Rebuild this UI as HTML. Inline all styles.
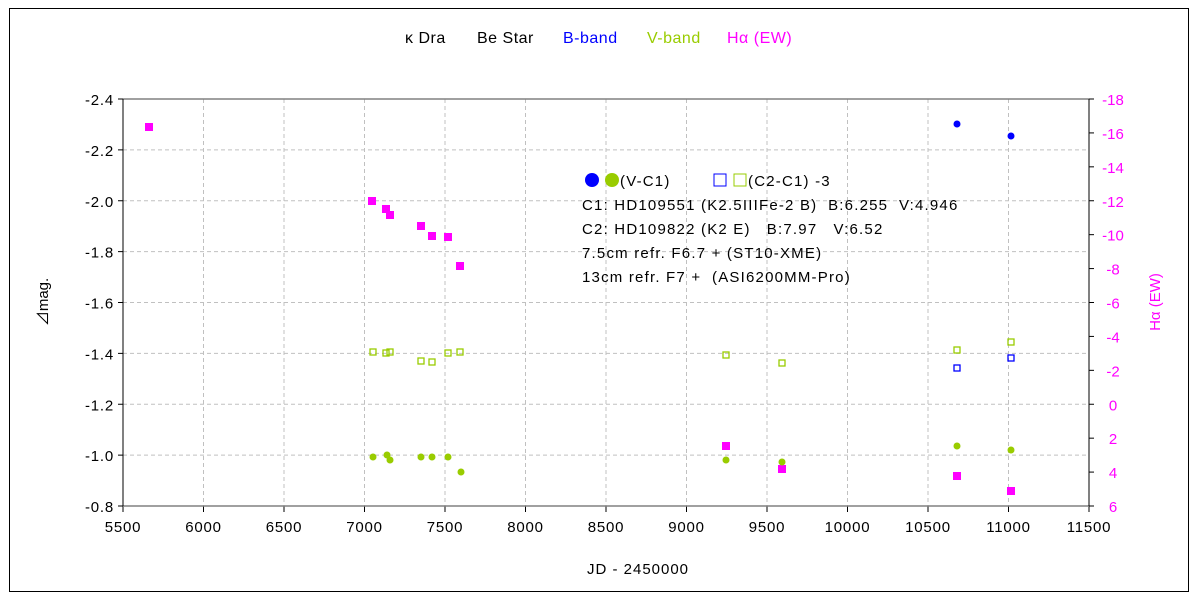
<!DOCTYPE html>
<html><head><meta charset="utf-8"><style>
html,body{margin:0;padding:0;background:#fff;}
svg text{font-family:"Liberation Sans","Noto Sans CJK JP",sans-serif;white-space:pre;}
.ann text{letter-spacing:1.2px;}
</style></head><body>
<svg id="s" width="1200" height="600" xmlns="http://www.w3.org/2000/svg">
<rect x="0" y="0" width="1200" height="600" fill="#fff"/>
<rect x="9.5" y="8.5" width="1179" height="583" fill="none" stroke="#000" stroke-width="1"/>
<g id="g"></g>
<g font-size="16" style="letter-spacing:0.5px">
<text x="405" y="43">κ Dra</text>
<text x="477" y="43">Be Star</text>
<text x="563" y="43" fill="#0000ff">B-band</text>
<text x="647" y="43" fill="#99cc00">V-band</text>
<text x="727" y="43" fill="#ff00ff">Hα (EW)</text>
</g>
<g font-size="15" class="ann">
<circle cx="592" cy="180" r="7" fill="#0000ff"/>
<circle cx="612" cy="180" r="7" fill="#99cc00"/>
<text x="620" y="186">(V-C1)</text>
<rect x="714" y="174" width="12" height="12" fill="none" stroke="#0000ff"/>
<rect x="734" y="174" width="12" height="12" fill="none" stroke="#99cc00"/>
<text x="748" y="186">(C2-C1) -3</text>
<text x="582" y="210">C1: HD109551 (K2.5IIIFe-2 B)  B:6.255  V:4.946</text>
<text x="582" y="234">C2: HD109822 (K2 E)   B:7.97   V:6.52</text>
<text x="582" y="258">7.5cm refr. F6.7 + (ST10-XME)</text>
<text x="582" y="282">13cm refr. F7 +  (ASI6200MM-Pro)</text>
</g>
<text x="638" y="574" font-size="15" text-anchor="middle" style="letter-spacing:1px">JD - 2450000</text>
<text transform="translate(48,302) rotate(-90)" font-size="15" text-anchor="middle">⊿mag.</text>
<text transform="translate(1160,302) rotate(-90)" font-size="15" text-anchor="middle" fill="#ff00ff">Hα (EW)</text>
</svg>
<script>
var g=document.getElementById('g'),h='';
var L=123,R=1089,T=99,B=506;
for(var i=0;i<=12;i++){var x=L+i*80.5;var v=5500+i*500;
 if(i>0&&i<12)h+='<line x1="'+x+'" y1="'+T+'" x2="'+x+'" y2="'+B+'" stroke="#c0c0c0" stroke-dasharray="4,3"/>';
 h+='<line x1="'+x+'" y1="'+B+'" x2="'+x+'" y2="'+(B+6)+'" stroke="#000"/>';
 h+='<text x="'+x+'" y="'+(B+26)+'" font-size="15" text-anchor="middle" style="letter-spacing:0.8px">'+v+'</text>';}
var lv=['-2.4','-2.2','-2.0','-1.8','-1.6','-1.4','-1.2','-1.0','-0.8'];
for(var i=0;i<9;i++){var y=T+i*50.875;
 if(i>0&&i<8)h+='<line x1="'+L+'" y1="'+y+'" x2="'+R+'" y2="'+y+'" stroke="#c0c0c0" stroke-dasharray="4,3"/>';
 h+='<line x1="'+(L-5)+'" y1="'+y+'" x2="'+L+'" y2="'+y+'" stroke="#000"/>';
 h+='<text x="'+(L-9)+'" y="'+(y+6)+'" font-size="15" text-anchor="end" style="letter-spacing:0.8px">'+lv[i]+'</text>';}
for(var i=0;i<13;i++){var y=T+i*(B-T)/12;var v=-18+i*2;
 h+='<line x1="'+R+'" y1="'+y+'" x2="'+(R+5)+'" y2="'+y+'" stroke="#000"/>';
 h+='<text x="'+(R+24)+'" y="'+(y+6)+'" font-size="15" text-anchor="middle" fill="#ff00ff">'+v+'</text>';}
h+='<line x1="'+L+'" y1="'+T+'" x2="'+R+'" y2="'+T+'" stroke="#808080" stroke-width="1.5"/>';
h+='<line x1="'+L+'" y1="'+B+'" x2="'+R+'" y2="'+B+'" stroke="#808080" stroke-width="1.5"/>';
h+='<line x1="'+L+'" y1="'+T+'" x2="'+L+'" y2="'+B+'" stroke="#000"/>';
h+='<line x1="'+R+'" y1="'+T+'" x2="'+R+'" y2="'+B+'" stroke="#000"/>';
var mg=[[149,127],[372,201],[386,209],[390,215],[421,226],[432,236],[448,237],[460,266],[726,446],[782,469],[957,476],[1011,491]];
mg.forEach(function(p){h+='<rect x="'+(p[0]-4)+'" y="'+(p[1]-4)+'" width="8" height="8" fill="#ff00ff"/>';});
var gs=[[373,352],[386,353],[390,352],[421,361],[432,362],[448,353],[460,352],[726,355],[782,363],[957,350],[1011,342]];
gs.forEach(function(p){h+='<rect x="'+(p[0]-3)+'" y="'+(p[1]-3)+'" width="6" height="6" fill="none" stroke="#99cc00" stroke-width="1.3"/>';});
[[957,368],[1011,358]].forEach(function(p){h+='<rect x="'+(p[0]-3)+'" y="'+(p[1]-3)+'" width="6" height="6" fill="none" stroke="#0000ff" stroke-width="1.3"/>';});
var gc=[[373,457],[387,455],[390,460],[421,457],[432,457],[448,457],[461,472],[726,460],[782,462],[957,446],[1011,450]];
gc.forEach(function(p){h+='<circle cx="'+p[0]+'" cy="'+p[1]+'" r="3.5" fill="#99cc00"/>';});
[[957,124],[1011,136]].forEach(function(p){h+='<circle cx="'+p[0]+'" cy="'+p[1]+'" r="3.5" fill="#0000ff"/>';});
g.innerHTML=h;
</script>
</body></html>
